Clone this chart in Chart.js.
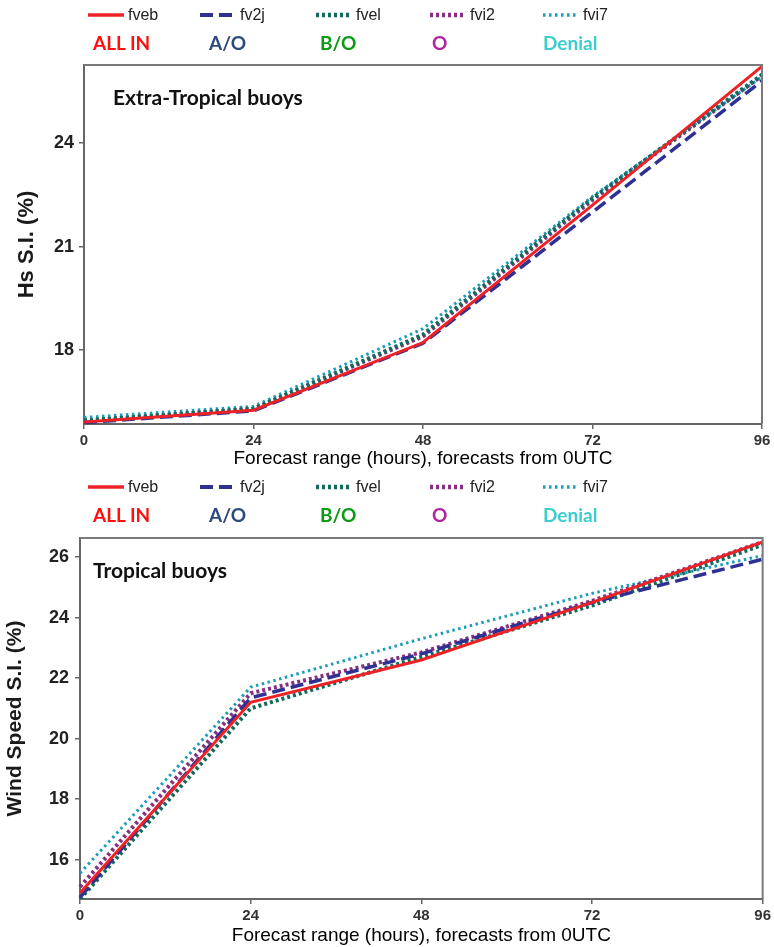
<!DOCTYPE html>
<html>
<head>
<meta charset="utf-8">
<script src="https://cdn.jsdelivr.net/npm/chart.js@4.4.1/dist/chart.umd.min.js"></script>
<style>
    body {
        margin: 0;
        background: #fff;
        width: 774px;
        height: 947px;
        position: relative;
        overflow: hidden;
        font-family: "Liberation Sans", Arial, sans-serif;
    }
    canvas {
        position: absolute;
        left: 0;
    }
    .lg {
        position: absolute;
        white-space: nowrap;
        line-height: 24px;
        height: 24px;
    }
    .name {
        font-size: 16px;
        color: #222;
    }
    .group {
        font-family: Lato, "Open Sans", sans-serif;
        font-weight: bold;
        font-size: 19px;
    }
    .note {
        position: absolute;
        font-family: Lato, "Open Sans", sans-serif;
        font-weight: bold;
        font-size: 21px;
        line-height: 26px;
        color: #111;
        white-space: nowrap;
    }
</style>
</head>
<body>
<canvas id="hsChart" width="774" height="470" style="top:0"></canvas>
<canvas id="windChart" width="774" height="477" style="top:470px"></canvas>
<div class="note" style="left:113px;top:84px">Extra-Tropical buoys</div>
<div class="note" style="left:93px;top:557px">Tropical buoys</div>
<script>
// forecast range (hours)
const hours = ["0", "24", "48", "72", "96"];
const seriesNames = ["fveb", "fv2j", "fvel", "fvi2", "fvi7"];
const groupNames = ["ALL IN", "A/O", "B/O", "O", "Denial"];

// Extra-Tropical buoys, Hs S.I. (%)
const hsFveb = [15.92, 16.26, 18.22, 22.2, 26.22];
const hsFv2j = [15.9, 16.24, 18.2, 22.0, 25.8];
const hsFvel = [15.96, 16.3, 18.45, 22.4, 25.98];
const hsFvi2 = [15.95, 16.3, 18.4, 22.35, 25.95];
const hsFvi7 = [16.05, 16.37, 18.62, 22.45, 25.92];
const hsTicks = [18, 21, 24];

// Tropical buoys, Wind Speed S.I. (%)
const windFveb = [14.9, 21.2, 22.6, 24.5, 26.5];
const windFv2j = [14.75, 21.35, 22.8, 24.5, 25.93];
const windFvel = [14.7, 21.0, 22.7, 24.4, 26.4];
const windFvi2 = [15.1, 21.5, 22.85, 24.55, 26.5];
const windFvi7 = [15.55, 21.7, 23.3, 24.8, 26.05];
const windTicks = [16, 18, 20, 22, 24, 26];

const lineStyles = [
    { color: "#ec2227", dash: [], width: 3 },
    { color: "#2e3192", dash: [13, 6], width: 3.5 },
    { color: "#13695b", dash: [3, 3], width: 4 },
    { color: "#86307f", dash: [3, 3], width: 4 },
    { color: "#1b9cb9", dash: [2.5, 3.5], width: 3 },
];
const groupColors = ["#ff1010", "#2c4a7e", "#0a9a16", "#b0259f", "#3ecdcd"];

// gray frame on top / right of the plot area
const framePlugin = {
    id: "frame",
    afterDatasetsDraw(chart) {
        const a = chart.chartArea;
        const ctx = chart.ctx;
        ctx.save();
        ctx.strokeStyle = "#7a7a7a";
        ctx.lineWidth = 2;
        ctx.beginPath();
        ctx.moveTo(a.left, a.top);
        ctx.lineTo(a.right, a.top);
        ctx.lineTo(a.right, a.bottom);
        ctx.stroke();
        ctx.restore();
    },
};

function makeChart(id, seriesData, opts) {
    const datasets = seriesData.map((values, i) => ({
        label: seriesNames[i],
        data: values,
        borderColor: lineStyles[i].color,
        backgroundColor: lineStyles[i].color,
        borderWidth: lineStyles[i].width,
        borderDash: lineStyles[i].dash,
        pointRadius: 0,
        tension: 0,
        fill: false,
    }));

    return new Chart(document.getElementById(id), {
        type: "line",
        data: { labels: hours, datasets: datasets },
        plugins: [framePlugin],
        options: {
            responsive: false,
            animation: false,
            events: [],
            layout: { padding: { top: opts.padTop, right: opts.padRight, left: 0, bottom: 0 } },
            plugins: { legend: { display: false }, tooltip: { enabled: false } },
            scales: {
                x: {
                    offset: false,
                    afterFit(scale) {
                        scale.height = opts.xHeight;
                    },
                    border: { color: "#666", width: 2 },
                    grid: { drawOnChartArea: false, tickLength: 5, tickColor: "#666", lineWidth: 1.5 },
                    ticks: {
                        padding: 3,
                        color: "#333",
                        font: { family: "Liberation Sans", size: 15, weight: "bold" },
                        maxRotation: 0,
                    },
                    title: {
                        display: true,
                        text: "Forecast range (hours), forecasts from 0UTC",
                        color: "#000",
                        font: { family: "Liberation Sans", size: 19 },
                        padding: { top: 2, bottom: 0 },
                    },
                },
                y: {
                    min: opts.min,
                    max: opts.max,
                    afterFit(scale) {
                        scale.width = opts.yWidth;
                    },
                    afterBuildTicks(axis) {
                        axis.ticks = opts.ticks.map((v) => ({ value: v }));
                    },
                    border: { color: "#666", width: 2 },
                    grid: { drawOnChartArea: false, tickLength: 5, tickColor: "#666", lineWidth: 1.5 },
                    ticks: {
                        padding: opts.tickPad,
                        color: "#222",
                        font: { family: "Liberation Sans", size: 18, weight: "bold" },
                    },
                    title: {
                        display: true,
                        text: opts.yTitle,
                        color: "#1a1a1a",
                        font: { family: "Liberation Sans", size: opts.yTitleSize, weight: "bold" },
                        padding: { top: opts.yTitlePad, bottom: 0 },
                    },
                },
            },
        },
    });
}

function addLegend(rowTop) {
    const sampleX = [88, 200, 316, 430, 543];
    const groupX = [93, 209, 320, 432, 543];
    seriesNames.forEach((name, i) => {
        const st = lineStyles[i];
        const el = document.createElement("div");
        el.className = "lg name";
        el.style.left = sampleX[i] + "px";
        el.style.top = rowTop - 12 + "px";
        const dash = st.dash.length ? st.dash.join(" ") : "none";
        el.innerHTML =
            '<svg width="38" height="24" style="vertical-align:top">' +
            '<line x1="0" y1="12" x2="36" y2="12" stroke="' + st.color +
            '" stroke-width="' + (st.width + 0.5) + '" stroke-dasharray="' + dash + '"/></svg>' +
            '<span style="margin-left:2px">' + name + "</span>";
        document.body.appendChild(el);

        const g = document.createElement("div");
        g.className = "lg group";
        g.style.left = groupX[i] + "px";
        g.style.top = rowTop + 16 + "px";
        g.style.color = groupColors[i];
        g.textContent = groupNames[i];
        document.body.appendChild(g);
    });
}

document.addEventListener("DOMContentLoaded", function () {
    makeChart("hsChart", [hsFveb, hsFv2j, hsFvel, hsFvi2, hsFvi7], {
        padTop: 65,
        padRight: 12,
        xHeight: 46,
        yWidth: 84,
        min: 15.86,
        max: 26.26,
        ticks: hsTicks,
        tickPad: 5,
        yTitle: "Hs S.I. (%)",
        yTitleSize: 22,
        yTitlePad: 14,
    });

    makeChart("windChart", [windFveb, windFv2j, windFvel, windFvi2, windFvi7], {
        padTop: 68,
        padRight: 11,
        xHeight: 48,
        yWidth: 80,
        min: 14.7,
        max: 26.63,
        ticks: windTicks,
        tickPad: 6,
        yTitle: "Wind Speed S.I. (%)",
        yTitleSize: 21,
        yTitlePad: 3,
    });

    addLegend(15);
    addLegend(487);
});
</script>
</body>
</html>
